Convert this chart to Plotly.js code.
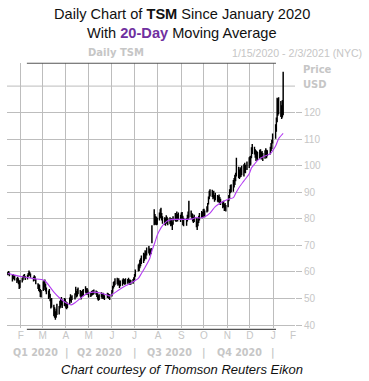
<!DOCTYPE html>
<html>
<head>
<meta charset="utf-8">
<script src="https://cdn.plot.ly/plotly-3.0.1.min.js"></script>
<style>
html,body{margin:0;padding:0;background:#fff;}
#chart{width:369px;height:381px;}
</style>
</head>
<body>
<div id="chart"></div>
<script>
// ---- Data ----
const firstDay = '2020-01-15';
const lastDay = '2021-01-14';
const marketHolidays = ['2020-01-20','2020-02-17','2020-04-10','2020-05-25','2020-07-03','2020-09-07','2020-11-26','2020-12-25','2021-01-01'];

// Daily highs, one row per month (Jan 15 2020 ... Jan 14 2021)
const highs = [
  59.8, 60.2, 59.6, 58.8, 59.0, 58.6, 58.6, 57.6, 58.0, 57.4, 56.4, 56.8,
  57.6, 58.4, 58.8, 59.0, 58.2, 58.8, 59.4, 60.4, 59.8, 59.2, 58.0, 58.6, 58.2, 57.2, 55.6, 55.2, 55.0, 53.4, 53.0,
  56.2, 56.8, 57.0, 55.4, 54.0, 52.8, 53.4, 51.6, 49.6, 50.0, 47.5, 46.5, 45.0, 46.0, 47.8, 47.0, 49.0, 50.0, 50.4, 49.4, 50.0, 49.8,
  48.8, 48.4, 48.2, 50.2, 51.4, 50.6, 51.0, 51.8, 54.2, 52.6, 53.4, 54.0, 53.0, 52.2, 52.6, 53.0, 53.4, 54.4, 53.6, 53.8, 53.2,
  52.4, 52.0, 52.6, 52.8, 53.0, 53.2, 52.8, 52.6, 51.8, 51.0, 51.4, 52.2, 51.6, 52.0, 51.6, 51.0, 52.0, 51.8, 51.4, 51.4,
  53.0, 54.6, 56.0, 56.4, 57.4, 57.6, 57.0, 57.4, 56.6, 56.6, 57.0, 57.4, 57.2, 57.0, 57.4, 57.2, 57.6, 57.0, 57.0, 56.8, 57.2, 57.8,
  59.0, 60.7, 62.6, 63.0, 64.4, 65.0, 66.0, 67.0, 66.8, 68.0, 67.6, 69.0, 69.6, 68.6, 68.4, 68.8, 77.4, 83.4, 81.6, 80.8, 80.6, 80.2,
  82.2, 83.4, 84.0, 82.0, 80.8, 80.4, 80.2, 81.2, 80.6, 80.0, 80.4, 79.8, 80.0, 78.8, 80.8, 82.0, 81.4, 82.6, 81.6, 82.2, 81.4,
  82.2, 82.4, 81.0, 80.2, 80.0, 81.4, 82.6, 86.6, 83.0, 82.0, 81.6, 80.6, 81.4, 80.0, 78.8, 80.0, 81.0, 82.0, 82.8, 82.4, 83.4,
  83.6, 83.0, 84.6, 85.8, 88.2, 90.4, 91.0, 90.8, 89.8, 90.4, 88.8, 89.6, 88.8, 88.4, 89.0, 88.0, 87.4, 86.4, 86.6, 85.4, 85.8, 85.0,
  87.0, 88.8, 91.0, 92.6, 92.8, 94.4, 95.2, 96.4, 97.2, 102.8, 99.4, 98.4, 99.2, 98.8, 99.8, 100.4, 100.9, 100.2, 101.4, 103.0,
  103.4, 103.6, 106.8, 108.0, 107.0, 106.0, 105.6, 105.4, 105.0, 105.8, 106.0, 105.0, 105.4, 104.6, 105.6, 106.4, 105.8, 105.6, 107.0, 108.4, 109.6, 112.0,
  115.4, 118.0, 125.4, 125.0, 125.6, 124.2, 122.6, 124.6, 135.2
];
// Daily lows, same layout
const lows = [
  59.0, 59.2, 58.6, 56.6, 57.6, 57.4, 57.0, 56.0, 56.6, 55.6, 53.8, 54.2,
  56.2, 57.0, 57.8, 58.0, 57.2, 57.4, 58.4, 59.0, 58.8, 58.0, 56.6, 57.4, 56.8, 55.6, 53.8, 53.0, 52.6, 50.8, 50.6,
  53.0, 53.4, 54.4, 52.8, 51.8, 50.0, 50.6, 49.2, 46.4, 46.8, 43.5, 43.0, 42.2, 43.0, 44.0, 44.2, 46.4, 46.8, 47.6, 46.6, 47.4, 47.2,
  46.4, 46.2, 46.6, 48.0, 49.2, 48.6, 49.6, 49.8, 51.4, 50.6, 51.0, 51.8, 51.0, 49.8, 50.8, 51.0, 51.2, 52.4, 51.6, 52.0, 51.6,
  50.6, 50.8, 51.2, 51.4, 51.6, 51.8, 51.6, 50.8, 49.8, 49.4, 49.6, 50.6, 50.0, 50.6, 50.0, 49.6, 50.4, 50.6, 50.0, 49.6,
  51.0, 52.4, 54.0, 54.6, 55.2, 55.6, 55.0, 55.4, 54.2, 54.8, 55.0, 55.8, 55.6, 55.4, 55.6, 55.8, 56.2, 55.4, 55.6, 55.4, 55.8, 56.4,
  57.0, 58.4, 60.4, 60.6, 61.6, 62.4, 63.2, 63.6, 64.4, 65.4, 65.0, 66.4, 67.2, 66.4, 66.8, 67.0, 71.0, 77.8, 78.2, 78.0, 77.8, 78.0,
  79.6, 80.4, 81.0, 79.6, 78.4, 78.0, 77.6, 78.4, 78.6, 77.8, 78.2, 77.4, 77.6, 76.0, 78.0, 79.4, 79.0, 79.6, 79.2, 79.8, 79.0,
  80.0, 80.2, 77.8, 77.4, 77.6, 79.2, 80.0, 80.6, 80.8, 80.2, 79.2, 78.6, 79.0, 77.0, 76.0, 77.4, 78.6, 79.6, 80.6, 80.4, 80.8,
  81.6, 80.8, 82.6, 83.0, 85.6, 87.6, 88.6, 88.4, 87.6, 88.0, 86.6, 87.2, 86.6, 86.4, 86.8, 85.6, 85.4, 84.2, 84.6, 83.2, 83.6, 83.0,
  84.6, 86.8, 88.0, 89.8, 90.2, 90.4, 92.0, 93.0, 94.4, 96.2, 95.6, 95.2, 95.8, 96.0, 96.6, 96.2, 97.6, 97.4, 98.6, 99.4,
  100.2, 100.6, 103.0, 104.6, 104.4, 103.2, 102.0, 102.8, 102.4, 102.8, 103.4, 102.6, 103.2, 102.0, 102.8, 103.6, 103.0, 103.8, 104.4, 105.8, 106.4, 108.6,
  110.4, 113.0, 116.6, 119.0, 119.6, 118.6, 117.8, 118.4, 119.2
];

// 20-day moving average, read at points along the purple line
const maDates = ['2020-01-15','2020-01-24','2020-02-03','2020-02-18','2020-03-02','2020-03-05','2020-03-10','2020-03-16','2020-03-24','2020-03-31',
  '2020-04-08','2020-04-13','2020-04-20','2020-04-29','2020-05-07','2020-05-15','2020-05-26','2020-05-29','2020-06-02','2020-06-11',
  '2020-06-19','2020-06-29','2020-07-06','2020-07-10','2020-07-15','2020-07-21','2020-07-24','2020-07-28','2020-07-31','2020-08-05',
  '2020-08-10','2020-08-14','2020-08-21','2020-09-03','2020-09-16','2020-09-21','2020-09-25','2020-10-02','2020-10-09','2020-10-16',
  '2020-10-27','2020-11-02','2020-11-09','2020-11-12','2020-11-17','2020-11-23','2020-11-30','2020-12-03','2020-12-07','2020-12-11',
  '2020-12-18','2020-12-28','2021-01-04','2021-01-08','2021-01-14'];
const maValues = [59.4, 58.8, 58.2, 57.5, 57.0, 56.4, 54.7, 52.4, 50.1, 48.6,
  47.6, 48.4, 50.0, 51.9, 52.4, 52.2, 51.3, 51.0, 51.6, 53.4,
  54.8, 56.3, 57.6, 59.4, 61.8, 65.0, 68.0, 71.2, 73.8, 76.6,
  78.4, 79.3, 79.8, 79.8, 80.0, 80.6, 80.3, 80.8, 82.2, 84.6,
  86.6, 87.4, 88.0, 89.6, 92.0, 94.3, 97.0, 99.2, 100.6, 102.0,
  103.3, 104.6, 107.4, 110.2, 112.2];

// Axis labels
const monthTicks = ['2020-02-01','2020-03-01','2020-04-01','2020-05-01','2020-06-01','2020-07-01','2020-08-01','2020-09-01','2020-10-01','2020-11-01','2020-12-01','2021-01-01'];
const monthLetters = ['F','M','A','M','J','J','A','S','O','N','D','J'];
const priceTicks = [40, 50, 60, 70, 80, 90, 100, 110, 120];
const quarterLabels = ['Q1 2020','Q2 2020','Q3 2020','Q4 2020'];
const quarterCenters = ['2020-02-21','2020-05-16','2020-08-16','2020-11-17'];
const quarterBounds = ['2020-04-02','2020-07-02','2020-10-01','2020-12-31'];

// ---- Build trading dates ----
function tradingDates(start, end, holidays) {
  const out = [];
  const d = new Date(start + 'T12:00:00Z');
  const e = new Date(end + 'T12:00:00Z');
  while (d <= e) {
    const wd = d.getUTCDay();
    const s = d.toISOString().slice(0, 10);
    if (wd !== 0 && wd !== 6 && holidays.indexOf(s) < 0) out.push(s);
    d.setUTCDate(d.getUTCDate() + 1);
  }
  return out;
}
const dates = tradingDates(firstDay, lastDay, marketHolidays);
const n = Math.min(dates.length, highs.length, lows.length);
const xs = dates.slice(0, n), hi = highs.slice(0, n), lo = lows.slice(0, n);

const GRAY = '#c6c6c6';
const GRID = '#bdbdbd';
const LIB = 'Liberation Sans, Arial, sans-serif';
const DJB = 'DejaVu Sans, Verdana, sans-serif';

const traces = [
  {
    type: 'candlestick', x: xs, open: lo, high: hi, low: lo, close: hi,
    increasing: {line: {color: '#000', width: 1.05}, fillcolor: '#000'},
    decreasing: {line: {color: '#000', width: 1.05}, fillcolor: '#000'},
    whiskerwidth: 0, hoverinfo: 'skip', showlegend: false
  },
  {
    type: 'scatter', mode: 'lines', x: maDates, y: maValues,
    line: {color: '#b43cf2', width: 1.1, shape: 'spline', smoothing: 0.6},
    hoverinfo: 'skip', showlegend: false
  }
];

const annotations = [
  {text: 'Daily Chart of <b>TSM</b> Since January 2020', xref: 'paper', yref: 'paper', x: 0.609, y: 1.185,
   xanchor: 'center', yanchor: 'middle', showarrow: false, font: {family: LIB, size: 14.6, color: '#111'}},
  {text: "With <b><span style='color:#7030a0'>20-Day</span></b> Moving Average", xref: 'paper', yref: 'paper', x: 0.607, y: 1.113,
   xanchor: 'center', yanchor: 'middle', showarrow: false, font: {family: LIB, size: 14.6, color: '#111'}},
  {text: '<b>Daily TSM</b>', xref: 'paper', yref: 'paper', x: 0.377, y: 1.038, xanchor: 'center', yanchor: 'middle',
   showarrow: false, font: {family: DJB, size: 10, color: GRAY}},
  {text: '1/15/2020 - 2/3/2021 (NYC)', xref: 'paper', yref: 'paper', x: 1.24, y: 1.038, xanchor: 'right', yanchor: 'middle',
   showarrow: false, font: {family: LIB, size: 10.6, color: GRAY}},
  {text: '<b>Price</b>', xref: 'paper', yref: 'paper', x: 1.02, y: 0.975, xanchor: 'left', yanchor: 'middle',
   showarrow: false, font: {family: DJB, size: 10, color: GRAY}},
  {text: '<b>USD</b>', xref: 'paper', yref: 'paper', x: 1.02, y: 0.917, xanchor: 'left', yanchor: 'middle',
   showarrow: false, font: {family: DJB, size: 10, color: GRAY}},
  {text: 'F', xref: 'x', yref: 'paper', x: '2021-01-27', y: -0.028, xanchor: 'center', yanchor: 'middle',
   showarrow: false, font: {family: LIB, size: 10, color: GRAY}},
  {text: '<i>Chart courtesy of Thomson Reuters Eikon</i>', xref: 'paper', yref: 'paper', x: 0.608, y: -0.158,
   xanchor: 'center', yanchor: 'middle', showarrow: false, font: {family: LIB, size: 13, color: '#111'}}
];
quarterLabels.forEach((q, i) => annotations.push({
  text: '<b>' + q + '</b>', xref: 'x', yref: 'paper', x: quarterCenters[i], y: -0.094, xanchor: 'center', yanchor: 'middle',
  showarrow: false, font: {family: DJB, size: 9.6, color: GRAY}}));
quarterBounds.forEach(b => annotations.push({
  text: '<b>|</b>', xref: 'x', yref: 'paper', x: b, y: -0.094, xanchor: 'center', yanchor: 'middle',
  showarrow: false, font: {family: DJB, size: 9.6, color: GRAY}}));

const layout = {
  width: 369, height: 381,
  margin: {l: 7, r: 74, t: 63, b: 53},
  paper_bgcolor: '#fff', plot_bgcolor: '#fff',
  showlegend: false,
  xaxis: {
    type: 'date', range: ['2020-01-13 20:00', '2021-01-29 17:00'],
    tickmode: 'array', tickvals: monthTicks, ticktext: monthLetters,
    showgrid: true, gridcolor: GRID, gridwidth: 1, zeroline: false, showline: false,
    ticks: '', tickfont: {family: LIB, size: 10, color: GRAY},
    rangeslider: {visible: false}, fixedrange: true
  },
  yaxis: {
    side: 'right', range: [38.9, 138.7],
    tickmode: 'array', tickvals: priceTicks, ticktext: priceTicks.map(String),
    showgrid: true, gridcolor: GRID, gridwidth: 1, zeroline: false, showline: false,
    ticks: 'outside', ticklen: 6, tickcolor: GRID, tickwidth: 1,
    tickfont: {family: LIB, size: 10, color: GRAY}, fixedrange: true
  },
  shapes: [
    {type: 'line', xref: 'paper', yref: 'y', x0: 0, x1: 1, y0: 130, y1: 130, line: {color: GRID, width: 1}, layer: 'below'},
    {type: 'line', xref: 'paper', yref: 'paper', x0: 0.069, x1: 0.934, y0: 0.999, y1: 0.999, line: {color: '#555', width: 1.2}},
    {type: 'line', xref: 'paper', yref: 'paper', x0: 0.069, x1: 0.934, y0: -0.005, y1: -0.005, line: {color: '#555', width: 1.2}}
  ],
  annotations: annotations
};

Plotly.newPlot('chart', traces, layout, {staticPlot: true, displayModeBar: false});
</script>
</body>
</html>
